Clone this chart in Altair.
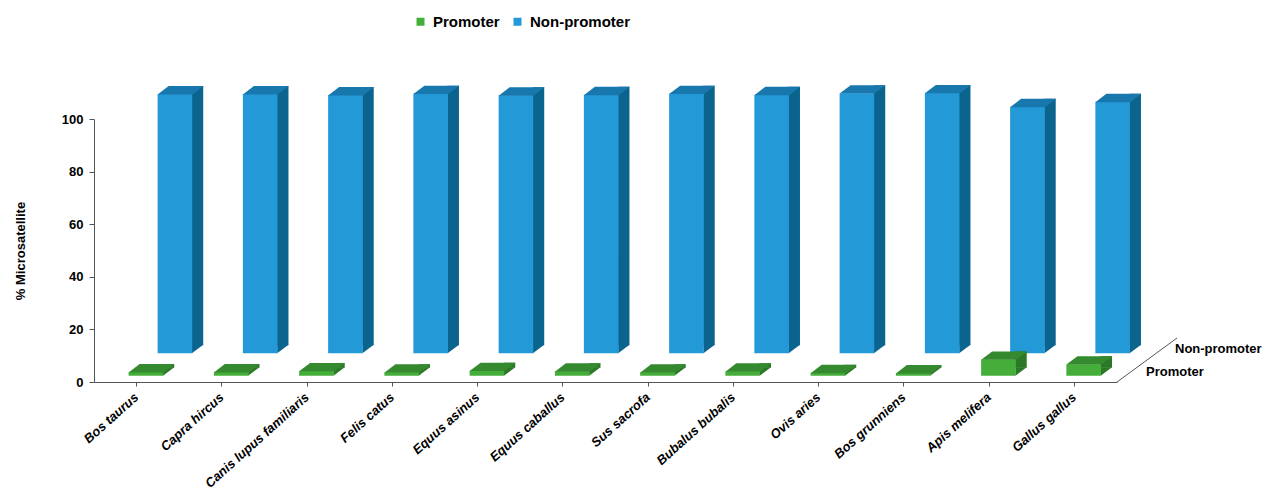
import altair as alt
import pandas as pd

species = ["Bos taurus", "Capra hircus", "Canis lupus familiaris", "Felis catus",
           "Equus asinus", "Equus caballus", "Sus sacrofa", "Bubalus bubalis",
           "Ovis aries", "Bos grunniens", "Apis melifera", "Gallus gallus"]
promoter = [1.4, 1.4, 1.8, 1.3, 1.9, 1.7, 1.3, 1.7, 1.1, 1.0, 6.2, 4.4]
non_promoter = [98.6, 98.6, 98.2, 98.7, 98.1, 98.3, 98.7, 98.3, 98.9, 99.0, 93.7, 95.6]
series_names = ["Promoter", "Non-promoter"]
y_ticks = [0, 20, 40, 60, 80, 100]

df = pd.DataFrame({
    "species": species * 2,
    "series": [series_names[0]] * len(species) + [series_names[1]] * len(species),
    "value": promoter + non_promoter,
    "zero": [0] * (2 * len(species)),
})

FONT = "Liberation Sans"
W, H = 1023, 263
FW = 34.6          # front face width
HW = FW / 2
DX, DY = 11, 8     # depth of each bar
rows = {
    "Non-promoter": dict(ox=38.3, dy=-28.7, front="#2499D8", top="#1877AC", side="#0A648E"),
    "Promoter": dict(ox=9.3, dy=-6.3, front="#45AE3B", top="#358A2F", side="#2B7826"),
}

x_enc = alt.X("species:N", sort=species, title=None,
              scale=alt.Scale(paddingInner=0, paddingOuter=0),
              axis=alt.Axis(labelAngle=-42, labelAlign="right", labelBaseline="middle",
                            labelFont=FONT, labelFontSize=13, labelFontWeight="bold",
                            labelFontStyle="italic", labelColor="#000000", labelPadding=9,
                            tickSize=4, tickColor="#555555", domainColor="#555555",
                            labelOverlap=False, grid=False))
y_axis = alt.Axis(values=y_ticks, labelFont=FONT, labelFontSize=13,
                  labelFontWeight="bold", labelColor="#000000", labelPadding=6,
                  tickSize=5, tickColor="#555555", domainColor="#555555",
                  titleFont=FONT, titleFontSize=13, titleFontWeight="bold",
                  titleColor="#000000", titlePadding=34, grid=False)
y_scale = alt.Scale(domain=[0, 100], nice=False)
y_enc = alt.Y("value:Q", title="% Microsatellite", scale=y_scale, axis=y_axis)
y_zero = alt.Y("zero:Q", title="% Microsatellite", scale=y_scale, axis=y_axis)
color_enc = alt.Color("series:N",
                      scale=alt.Scale(domain=series_names,
                                      range=[rows["Promoter"]["front"], rows["Non-promoter"]["front"]]),
                      legend=alt.Legend(orient="none", legendX=319, legendY=-105,
                                        direction="horizontal", title=None,
                                        symbolType="square", symbolSize=64,
                                        symbolStrokeWidth=0, labelFont=FONT,
                                        labelFontSize=15, labelFontWeight="bold",
                                        labelColor="#000000", columnPadding=10,
                                        labelOffset=5))

base = alt.Chart(df)
top_path = f"M{-HW},0.4L{HW + 0.4},0.4L{HW + DX + 0.4},{-DY}L{-HW + DX},{-DY}Z"
tri_path = f"M{HW - 0.3},0L{HW - 0.3},{-DY - 0.5}L{HW + DX},{-DY - 0.5}Z"

layers = []
for name in ["Non-promoter", "Promoter"]:
    r = rows[name]
    sub = base.transform_filter(alt.datum.series == name)
    side = sub.mark_bar(width=DX + 0.6, xOffset=r["ox"] + HW + DX / 2 - 0.3,
                        yOffset=r["dy"] - DY, y2Offset=r["dy"] - DY,
                        color=r["side"]).encode(x=x_enc, y=y_enc, y2="zero:Q")
    bottom_tri = sub.mark_point(shape=tri_path, size=4, filled=True, opacity=1,
                                xOffset=r["ox"], yOffset=r["dy"],
                                color=r["side"], strokeWidth=0).encode(x=x_enc, y=y_zero)
    front = sub.mark_bar(width=FW, xOffset=r["ox"], yOffset=r["dy"], y2Offset=r["dy"],
                         opacity=1).encode(x=x_enc, y=y_enc, y2="zero:Q", color=color_enc)
    top = sub.mark_point(shape=top_path, size=4, filled=True, opacity=1,
                         xOffset=r["ox"], yOffset=r["dy"],
                         color=r["top"], strokeWidth=0).encode(x=x_enc, y=y_enc)
    layers += [side, bottom_tri, front, top]

diag = alt.Chart(pd.DataFrame({"a": [0]})).mark_rule(color="#555555", strokeWidth=1).encode(
    x=alt.value(W), x2=alt.value(W + 60), y=alt.value(H), y2=alt.value(H - 44))
lab_np = alt.Chart(pd.DataFrame({"label": [series_names[1]]})).mark_text(
    align="left", baseline="middle", font=FONT, fontSize=13, fontWeight="bold",
    color="#000000").encode(text="label:N", x=alt.value(W + 58), y=alt.value(H - 33))
lab_p = alt.Chart(pd.DataFrame({"label": [series_names[0]]})).mark_text(
    align="left", baseline="middle", font=FONT, fontSize=13, fontWeight="bold",
    color="#000000").encode(text="label:N", x=alt.value(W + 29), y=alt.value(H - 10))

chart = alt.layer(*layers, diag, lab_np, lab_p).properties(
    width=W, height=H,
    autosize=alt.AutoSizeParams(type="none"),
    padding={"left": 94, "top": 119, "right": 154, "bottom": 110},
    background="white",
).configure_view(stroke=None)

chart.save("out.html", embed_options={"renderer": "svg", "actions": False})
